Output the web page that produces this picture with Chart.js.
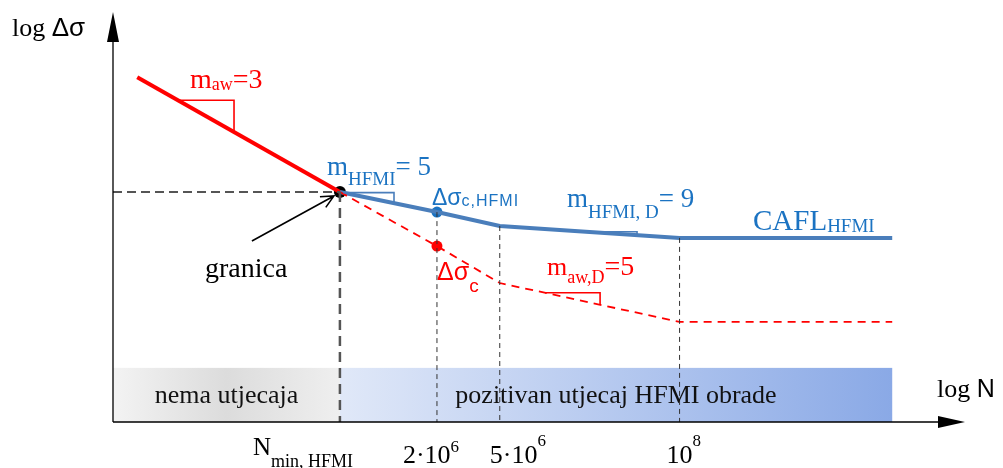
<!DOCTYPE html>
<html>
<head>
<meta charset="utf-8">
<script src="https://cdn.jsdelivr.net/npm/chart.js@4.4.0/dist/chart.umd.min.js"></script>
<style>
  body { margin: 0; background: #fff; }
  canvas { display: block; }
</style>
</head>
<body>
<canvas id="wohler" width="1003" height="468"></canvas>
<script>
// schematic log N positions (not to scale)
const tickN = [5.62, 6.30, 6.74, 8.00];
const xStart = 4.20, xEnd = 9.49;

// log delta sigma, arbitrary units 0..100
const xAW = [xStart, tickN[0]];
const sAW = [84.1, 56.1];
const xHFMI = [tickN[0], tickN[1], tickN[2], tickN[3], xEnd];
const sHFMI = [56.1, 51.2, 47.8, 44.9, 44.9];
const sAWD = [56.1, 42.9, 33.9, 24.4, 24.4];
const bandTop = 13.2;

const SERIF = '"Liberation Serif", serif';
const SANS = '"Liberation Sans", sans-serif';
const RED = '#ff0000';
const BLUE_LINE = '#4a7ebb';
const BLUE_TXT = '#1b73c2';

function pts(xs, ys) {
    return xs.map((x, i) => ({x: x, y: ys[i]}));
}

function lineY(xs, ys, x) {
    for (let i = 0; i < xs.length - 1; i++) {
        if (x >= xs[i] && x <= xs[i + 1]) {
            return ys[i] + (ys[i + 1] - ys[i]) * (x - xs[i]) / (xs[i + 1] - xs[i]);
        }
    }
    return ys[ys.length - 1];
}

function rich(ctx, x, y, parts, color) {
    ctx.fillStyle = color;
    ctx.textAlign = 'left';
    ctx.textBaseline = 'alphabetic';
    parts.forEach(p => {
        ctx.font = p.f;
        ctx.letterSpacing = p.ls || '0px';
        ctx.fillText(p.t, x, y + (p.dy || 0));
        x += ctx.measureText(p.t).width;
    });
    ctx.letterSpacing = '0px';
}

const slopeMarks = [
    {a: 4.485, b: 4.878, xs: xAW, ys: sAW, color: RED},
    {a: 5.642, b: 5.999, xs: xHFMI, ys: sHFMI, color: BLUE_LINE},
    {a: 7.352, b: 7.702, xs: xHFMI, ys: sHFMI, color: BLUE_LINE},
    {a: 7.057, b: 7.443, xs: xHFMI, ys: sAWD, color: RED}
];

const tickLabels = [
    {base: 'N', sub: 'min, HFMI'},
    {base: '2·10', sup: '6', off: 34, supDy: -11},
    {base: '5·10', sup: '6', off: 10, supDy: -17},
    {base: '10', sup: '8', off: 13, supDy: -17}
];

const backdrop = {
    id: 'backdrop',
    beforeDatasetsDraw(chart) {
        const ctx = chart.ctx, x = chart.scales.x, y = chart.scales.y;
        const top = y.getPixelForValue(bandTop), bot = y.getPixelForValue(0);
        const x0 = x.getPixelForValue(x.min), x1 = x.getPixelForValue(tickN[0]), x2 = x.getPixelForValue(xEnd);
        ctx.save();
        let g = ctx.createLinearGradient(x0, 0, x1, 0);
        g.addColorStop(0, '#f3f3f3');
        g.addColorStop(0.5, '#dcdcdc');
        g.addColorStop(1, '#efefef');
        ctx.fillStyle = g;
        ctx.fillRect(x0, top, x1 - x0, bot - top);
        g = ctx.createLinearGradient(x1, 0, x2, 0);
        g.addColorStop(0, '#e0e8f8');
        g.addColorStop(1, '#8aa9e6');
        ctx.fillStyle = g;
        ctx.fillRect(x1, top, x2 - x1, bot - top);
        ctx.restore();
    },
    afterDatasetsDraw(chart) {
        const ctx = chart.ctx, x = chart.scales.x, y = chart.scales.y;
        const ox = x.getPixelForValue(x.min), oy = y.getPixelForValue(0);
        const ty = y.getPixelForValue(y.max), tx = x.getPixelForValue(x.max);
        ctx.save();
        // axes with arrows
        ctx.strokeStyle = '#000';
        ctx.fillStyle = '#000';
        ctx.lineWidth = 1.3;
        ctx.beginPath();
        ctx.moveTo(ox, oy); ctx.lineTo(ox, ty + 20);
        ctx.moveTo(ox, oy); ctx.lineTo(tx - 20, oy);
        ctx.stroke();
        ctx.beginPath();
        ctx.moveTo(ox, ty); ctx.lineTo(ox - 6, ty + 30); ctx.lineTo(ox + 6, ty + 30); ctx.closePath();
        ctx.moveTo(tx, oy); ctx.lineTo(tx - 27, oy - 6); ctx.lineTo(tx - 27, oy + 6); ctx.closePath();
        ctx.fill();

        // slope triangles
        ctx.lineWidth = 1.6;
        slopeMarks.forEach(m => {
            const ya = y.getPixelForValue(lineY(m.xs, m.ys, m.a));
            const yb = y.getPixelForValue(lineY(m.xs, m.ys, m.b));
            const pa = x.getPixelForValue(m.a), pb = x.getPixelForValue(m.b);
            ctx.strokeStyle = m.color;
            ctx.beginPath();
            ctx.moveTo(pa, ya); ctx.lineTo(pb, ya); ctx.lineTo(pb, yb);
            ctx.stroke();
        });

        // arrow pointing at the knee
        const kx = x.getPixelForValue(tickN[0]), ky = y.getPixelForValue(sAW[1]);
        const sx = kx - 88, sy = ky + 49;
        const tipx = kx - 6, tipy = ky + 4;
        const ang = Math.atan2(tipy - sy, tipx - sx);
        ctx.strokeStyle = '#000';
        ctx.lineWidth = 1.6;
        ctx.beginPath();
        ctx.moveTo(sx, sy); ctx.lineTo(tipx, tipy);
        ctx.moveTo(tipx - 14 * Math.cos(ang - 0.45), tipy - 14 * Math.sin(ang - 0.45));
        ctx.lineTo(tipx, tipy);
        ctx.lineTo(tipx - 14 * Math.cos(ang + 0.45), tipy - 14 * Math.sin(ang + 0.45));
        ctx.stroke();

        // labels
        rich(ctx, 12, 36, [{t: 'log ', f: '26px ' + SERIF}, {t: 'Δσ', f: '26px ' + SANS}], '#000');
        rich(ctx, 937, 397, [{t: 'log ', f: '26px ' + SERIF}, {t: 'N', f: '25px ' + SANS}], '#000');
        rich(ctx, 190, 88, [{t: 'm', f: '28px ' + SERIF}, {t: 'aw', f: '18px ' + SERIF, dy: 2}, {t: '=3', f: '28px ' + SERIF}], RED);
        rich(ctx, 327, 175, [{t: 'm', f: '27px ' + SERIF}, {t: 'HFMI', f: '19px ' + SERIF, dy: 10}, {t: '= 5', f: '27px ' + SERIF}], BLUE_TXT);
        rich(ctx, 432, 205, [{t: 'Δσ', f: '23px ' + SANS}, {t: 'c,HFMI', f: '16px ' + SANS, dy: 1, ls: '1px'}], BLUE_TXT);
        rich(ctx, 567, 207, [{t: 'm', f: '27px ' + SERIF}, {t: 'HFMI, D', f: '19px ' + SERIF, dy: 11}, {t: '= 9', f: '27px ' + SERIF}], BLUE_TXT);
        rich(ctx, 753, 230, [{t: 'CAFL', f: '29px ' + SERIF}, {t: 'HFMI', f: '19px ' + SERIF, dy: 2}], BLUE_TXT);
        rich(ctx, 437, 280, [{t: 'Δσ', f: '25px ' + SANS}, {t: 'c', f: '19px ' + SANS, dy: 12}], RED);
        rich(ctx, 547, 275, [{t: 'm', f: '26px ' + SERIF}, {t: 'aw,D', f: '18px ' + SERIF, dy: 8}, {t: '=5', f: '28px ' + SERIF}], RED);
        rich(ctx, 205, 277, [{t: 'granica', f: '28px ' + SERIF}], '#000');

        ctx.textAlign = 'center';
        ctx.fillStyle = '#111';
        ctx.font = '26px ' + SERIF;
        ctx.fillText('nema utjecaja', (ox + kx) / 2, 403);
        ctx.fillText('pozitivan utjecaj HFMI obrade', 616, 403);

        // x tick labels
        const tl = tickLabels;
        rich(ctx, x.getPixelForValue(tickN[0]) - 87, 455, [{t: tl[0].base, f: '25px ' + SERIF}, {t: tl[0].sub, f: '18px ' + SERIF, dy: 12}], '#000');
        for (let i = 1; i < tickN.length; i++) {
            const px = x.getPixelForValue(tickN[i]);
            rich(ctx, px - tl[i].off, 463, [{t: tl[i].base, f: '26px ' + SERIF}, {t: tl[i].sup, f: '17px ' + SERIF, dy: tl[i].supDy}], '#000');
        }
        ctx.restore();
    }
};

const dashRef = {borderColor: '#555', borderWidth: 2.2, borderDash: [9, 5], pointRadius: 0, showLine: true, fill: false};
const thinRef = {borderColor: '#333', borderWidth: 1, borderDash: [5, 4], pointRadius: 0, showLine: true, fill: false};

const config = {
    type: 'scatter',
    data: {
        datasets: [
            Object.assign({data: [{x: 4.03, y: sAW[1]}, {x: tickN[0], y: sAW[1]}]}, dashRef),
            Object.assign({data: [{x: tickN[0], y: sAW[1]}, {x: tickN[0], y: 0}]}, dashRef, {borderDash: [10, 6], borderWidth: 2.5}),
            Object.assign({data: [{x: tickN[1], y: sHFMI[1]}, {x: tickN[1], y: 0}]}, thinRef),
            Object.assign({data: [{x: tickN[2], y: sHFMI[2]}, {x: tickN[2], y: 0}]}, thinRef),
            Object.assign({data: [{x: tickN[3], y: sHFMI[3]}, {x: tickN[3], y: 0}]}, thinRef),
            {data: pts(xHFMI, sAWD), borderColor: RED, borderWidth: 1.8, borderDash: [8, 6], pointRadius: 0, showLine: true},
            {data: pts(xHFMI, sHFMI), borderColor: BLUE_LINE, borderWidth: 4, pointRadius: 0, showLine: true},
            {data: pts(xAW, sAW), borderColor: RED, borderWidth: 4, pointRadius: 0, showLine: true},
            {
                data: [{x: tickN[1], y: sHFMI[1]}, {x: tickN[1], y: sAWD[1]}, {x: tickN[0], y: sAW[1]}],
                pointBackgroundColor: [BLUE_TXT, RED, '#000'],
                pointBorderWidth: 0,
                pointRadius: [5.5, 5.5, 6],
                showLine: false
            }
        ]
    },
    options: {
        responsive: false,
        animation: false,
        layout: {padding: {left: 113, right: 38, top: 12, bottom: 46}},
        plugins: {legend: {display: false}, tooltip: {enabled: false}},
        scales: {
            x: {type: 'linear', min: 4.03, max: 10.0, display: false},
            y: {type: 'linear', min: 0, max: 100, display: false}
        }
    },
    plugins: [backdrop]
};

let chart = new Chart(document.getElementById('wohler'), config);
</script>
</body>
</html>
